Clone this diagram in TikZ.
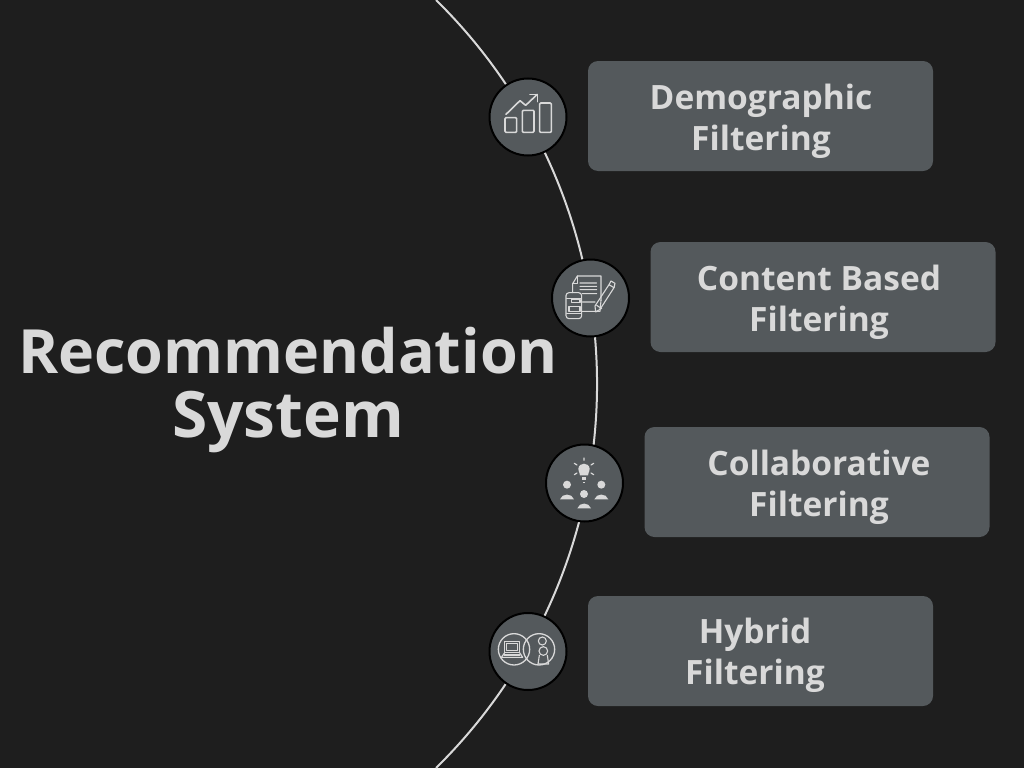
\documentclass[tikz,border=0pt]{standalone}
\usepackage{fontspec}
\setmainfont{Open Sans}
\definecolor{bgc}{HTML}{1E1E1E}
\definecolor{boxc}{HTML}{54595C}
\definecolor{txtc}{HTML}{D9D9D9}
\tikzset{
  boxnode/.style={fill=boxc,rounded corners=10pt,minimum width=345pt,minimum height=110pt,inner sep=0pt,draw=none},
  dot/.style={circle,fill=boxc,draw=black,line width=2pt,minimum size=77pt,inner sep=0pt},
  label/.style={text=txtc,font=\fontsize{33.5}{41}\selectfont\bfseries,align=center,inner sep=0pt},
  titlenode/.style={text=txtc,font=\fontsize{61}{64}\selectfont\bfseries,align=center,inner sep=0pt},
  ico/.style={draw=txtc,line width=1.6pt,line join=round,line cap=round},
  icothin/.style={draw=txtc,line width=1.1pt,line join=round,line cap=round},
}
\begin{document}
\begin{tikzpicture}[x=1pt,y=-1pt]
\useasboundingbox (0,0) rectangle (1024,768);
\fill[bgc] (0,0) rectangle (1024,768);
% arc
\draw[txtc,line width=2pt] (436,0) arc[start angle=45.5,end angle=-45.5,radius=538.4pt];
% boxes
\node[boxnode] (b1) at (760.5,116) {};
\node[boxnode] (b2) at (823,297) {};
\node[boxnode] (b3) at (817,482) {};
\node[boxnode] (b4) at (760.5,651) {};
\node[dot] (c1) at (528,117) {};
\node[dot] (c2) at (590.5,298) {};
\node[dot] (c3) at (584.5,483) {};
\node[dot] (c4) at (528,651.5) {};
% texts
\node[titlenode] (title) at (288,390) {Recommendation\\{\fontsize{64}{64}\selectfont System}};
\node[label] (t1) at (761,121) {Demographic\\Filtering};
\node[label] (t2) at (819,302) {Content Based\\Filtering};
\node[label] (t3) at (819,487) {Collaborative\\Filtering};
\node[label] (t4) at (755,655) {Hybrid\\Filtering};
% icon 1
\begin{scope}[shift={(480,70)},x=0.3333pt,y=-0.3333pt]
\draw[ico,rounded corners=1pt] (75,143) rectangle (110,187);
\draw[ico,rounded corners=1pt] (127,121) rectangle (162,187);
\draw[ico,rounded corners=1pt] (179,99) rectangle (214,187);
\draw[ico] (78,133) -- (120,92) -- (137,106) -- (172,73);
\draw[ico] (150,73) -- (172,73) -- (172,95);
\end{scope}
% icon 2
\begin{scope}[shift={(545,252)},x=0.3333pt,y=-0.3333pt]
\draw[icothin] (83,122) -- (83,95) -- (97,72) -- (168,72) -- (168,145);
\draw[icothin] (97,72) -- (97,95) -- (83,95);
\draw[icothin] (105,93) -- (155,93) (105,103) -- (155,103) (105,113) -- (155,113) (112,125) -- (155,125) (112,150) -- (150,150) (110,178) -- (165,178) -- (168,145);
\draw[icothin,rounded corners=3pt] (63,122) rectangle (110,200);
\draw[icothin] (65,140) -- (108,140) (65,185) -- (108,185);
\draw[icothin] (80,143) rectangle (105,152) (72,163) rectangle (105,178);
\draw[icothin] (150,162) -- (192,98) -- (207,107) -- (165,172) -- (152,180) -- cycle;
\draw[icothin] (192,98) -- (198,87) -- (210,94) -- (207,107);
\draw[icothin] (155,160) -- (170,170);
\end{scope}
% icon 3
\begin{scope}[shift={(540,438)},x=0.3333pt,y=-0.3333pt]
\fill[txtc] (120,112) .. controls (118,100) and (114,98) .. (115,92) .. controls (117,72) and (147,72) .. (149,92) .. controls (150,98) and (146,100) .. (144,112) -- cycle;
\fill[txtc] (125,116) rectangle (139,127);
\fill[txtc] (128,131) rectangle (136,136);
\draw[ico,line width=1.2pt] (132,60) -- (132,67) (103,76) -- (111,81) (161,76) -- (153,81) (103,110) -- (111,105) (161,110) -- (153,105);
\fill[txtc] (81,140) circle[radius=12];
\fill[txtc] (184,140) circle[radius=12];
\fill[txtc] (132,168) circle[radius=12];
\fill[txtc] (60,184) .. controls (66,165) and (96,165) .. (102,184) -- cycle;
\fill[txtc] (163,184) .. controls (169,165) and (199,165) .. (205,184) -- cycle;
\fill[txtc] (112,211) .. controls (118,192) and (147,192) .. (153,211) -- cycle;
\end{scope}
% icon 4
\begin{scope}[shift={(484,606)},x=0.3333pt,y=-0.3333pt]
\draw[ico,line width=1.3pt] (90,130) circle[radius=47];
\draw[ico,line width=1.3pt] (165,130) circle[radius=47];
\draw[icothin] (62,107) rectangle (107,140);
\draw[icothin] (68,113) rectangle (101,134);
\draw[icothin] (62,140) -- (52,154) -- (116,154) -- (107,140);
\draw[icothin] (60,147) -- (108,147);
\draw[icothin] (175,105) circle[radius=12];
\draw[icothin] (178,135) circle[radius=13];
\draw[icothin] (166,148) -- (162,174) -- (194,174) -- (190,148);
\end{scope}
\end{tikzpicture}
\end{document}
